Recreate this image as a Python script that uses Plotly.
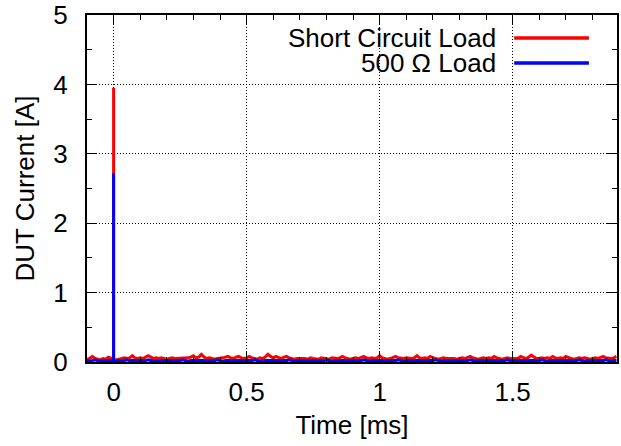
import plotly.graph_objects as go

# --- data ---
sample_step_ms = 0.01
t_start_ms = -0.10
n_samples = 200
time_ms = [round(t_start_ms + i * sample_step_ms, 4) for i in range(n_samples)]

# baseline noise in units of 0.01 A
short_noise_cA = [
    4, 5, 8, 5, 4, 3, 5, 4, 7, 5,
    4, 3, 4, 5, 6, 5, 6, 9, 6, 5,
    6, 5, 7, 9, 7, 5, 6, 5, 6, 5,
    4, 5, 6, 5, 5, 6, 5, 5, 6, 7,
    9, 6, 7, 11, 7, 5, 6, 5, 4, 5,
    5, 6, 7, 8, 6, 5, 7, 8, 6, 5,
    6, 8, 6, 5, 4, 6, 5, 7, 11, 8,
    6, 8, 6, 5, 7, 8, 6, 5, 4, 5,
    5, 6, 5, 4, 6, 5, 5, 4, 6, 5,
    5, 4, 6, 5, 5, 6, 8, 6, 5, 4,
    5, 6, 5, 6, 8, 6, 5, 6, 5, 6,
    9, 6, 5, 4, 5, 6, 8, 6, 5, 5,
    6, 5, 5, 6, 9, 6, 5, 6, 5, 8,
    6, 5, 4, 5, 6, 5, 5, 6, 5, 4,
    5, 6, 5, 6, 8, 6, 5, 4, 5, 6,
    5, 6, 5, 8, 6, 5, 4, 5, 6, 5,
    5, 6, 5, 8, 6, 5, 7, 10, 7, 5,
    5, 6, 5, 6, 5, 8, 6, 5, 6, 5,
    8, 6, 5, 4, 5, 6, 5, 6, 5, 4,
    5, 6, 5, 6, 8, 6, 5, 5, 6, 8,
]
r500_noise_cA = [
    2, 1, 2, 3, 2, 1, 2, 2, 1, 2,
    2, 1, 2, 1, 2, 3, 2, 2, 1, 2,
    1, 2, 2, 3, 2, 1, 2, 1, 2, 2,
    1, 2, 2, 1, 2, 2, 3, 2, 1, 2,
    2, 1, 2, 2, 1, 2, 2, 1, 2, 3,
    2, 1, 2, 2, 1, 2, 2, 1, 2, 2,
    1, 2, 2, 3, 2, 1, 2, 2, 1, 2,
    2, 1, 2, 2, 1, 2, 3, 2, 1, 2,
    2, 1, 2, 2, 1, 2, 2, 1, 2, 2,
    3, 2, 1, 2, 2, 1, 2, 2, 1, 2,
    2, 1, 2, 2, 3, 2, 1, 2, 2, 1,
    2, 2, 1, 2, 2, 1, 2, 3, 2, 1,
    2, 2, 1, 2, 2, 1, 2, 2, 1, 2,
    2, 3, 2, 1, 2, 2, 1, 2, 2, 1,
    2, 2, 1, 2, 3, 2, 1, 2, 2, 1,
    2, 2, 1, 2, 2, 1, 2, 2, 3, 2,
    1, 2, 2, 1, 2, 2, 1, 2, 2, 1,
    2, 3, 2, 1, 2, 2, 1, 2, 2, 1,
    2, 2, 1, 2, 2, 3, 2, 1, 2, 2,
    1, 2, 2, 1, 2, 3, 2, 1, 2, 2,
]
spike_time_ms = 0.0
short_peak_A = 3.95
r500_peak_A = 2.72

series_names = ["Short Circuit Load", "500 \u03a9 Load"]
series_colors = ["#ff0000", "#0000ff"]

x_ticks = [0, 0.5, 1, 1.5]
y_ticks = [0, 1, 2, 3, 4, 5]


def with_spike(times, values_cA, peak):
    i = times.index(spike_time_ms)
    vals = [v / 100.0 for v in values_cA]
    xs = times[: i + 1] + [spike_time_ms] + times[i:]
    ys = vals[: i + 1] + [peak] + vals[i:]
    return xs, ys


FONT = "Liberation Sans, Arial, Helvetica, sans-serif"
FS = 26

fig = go.Figure()
for name, noise, peak, col in [
    (series_names[0], short_noise_cA, short_peak_A, series_colors[0]),
    (series_names[1], r500_noise_cA, r500_peak_A, series_colors[1]),
]:
    xs, ys = with_spike(time_ms, noise, peak)
    fig.add_trace(go.Scatter(x=xs, y=ys, mode="lines", name=name,
                             line=dict(color=col, width=3), showlegend=False))

# gnuplot-style key: right-aligned text followed by line sample
key_rows_y = [0.934, 0.862]
for name, col, yy in zip(series_names, series_colors, key_rows_y):
    fig.add_annotation(xref="paper", yref="paper", x=0.7755, y=yy, text=name,
                       showarrow=False, xanchor="right", yanchor="middle",
                       font=dict(family=FONT, size=FS, color="black"))
    fig.add_shape(type="line", xref="paper", yref="paper", x0=0.806, x1=0.947,
                  y0=yy, y1=yy, line=dict(color=col, width=3.5))

axis_common = dict(
    showline=True, linecolor="black", linewidth=2, mirror="allticks",
    ticks="inside", ticklen=10, tickwidth=1, tickcolor="black",
    showgrid=True, gridcolor="#000000", gridwidth=1, griddash="1px,2px",
    zeroline=False, automargin=False,
    tickfont=dict(family=FONT, size=FS, color="black"),
)

fig.update_xaxes(range=[-0.1, 1.892], tickvals=x_ticks,
                 ticktext=[f"{v:g}" for v in x_ticks],
                 minor=dict(dtick=0.1, tick0=0, ticks="inside", ticklen=5,
                            tickwidth=1, tickcolor="black", showgrid=False),
                 title=dict(text="Time [ms]", font=dict(family=FONT, size=FS, color="black"),
                            standoff=10),
                 ticklabelstandoff=6,
                 **axis_common)
fig.update_yaxes(range=[0, 5], tickvals=y_ticks,
                 ticktext=[f"{v:g}" for v in y_ticks],
                 minor=dict(dtick=0.5, tick0=0, ticks="inside", ticklen=5,
                            tickwidth=1, tickcolor="black", showgrid=False),
                 title=dict(text="DUT Current [A]", font=dict(family=FONT, size=FS, color="black"),
                            standoff=11),
                 ticklabelstandoff=12,
                 **axis_common)

fig.update_layout(
    width=621, height=446,
    margin=dict(l=87, r=4, t=15, b=84),
    plot_bgcolor="white", paper_bgcolor="white",
    font=dict(family=FONT, size=FS, color="black"),
)

fig.write_html("out.html", config={"displayModeBar": False},
               post_script="document.body.style.margin='0';document.body.style.overflow='hidden';")
